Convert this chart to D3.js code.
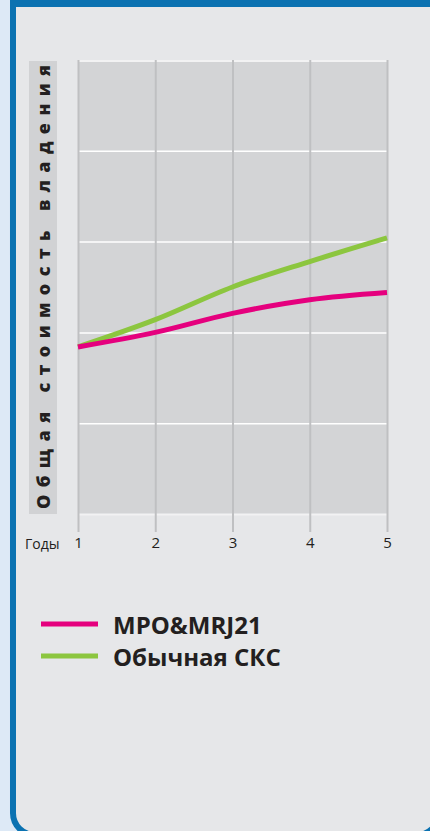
<!DOCTYPE html>
<html>
<head>
<meta charset="utf-8">
<script src="https://cdn.jsdelivr.net/npm/d3@7"></script>
<style>
  html, body { margin: 0; padding: 0; background: #dde9f6; }
  svg { display: block; }
</style>
</head>
<body>
<svg id="chart" width="430" height="831"></svg>
<script>
// Years along the bottom axis
const years = [1, 2, 3, 4, 5];
const yearLabel = "Годы";
// Total cost of ownership, relative units (one gridline step = 1)
const mpoValues = [1.84, 2.00, 2.21, 2.36, 2.44];
const standardValues = [1.84, 2.14, 2.50, 2.78, 3.04];
const seriesNames = ["MPO&MRJ21", "Обычная СКС"];
const seriesColors = ["#e5007e", "#8cc63f"];
const yTitle = "Общая стоимость владения";
const yGrid = [1, 2, 3, 4];

const svg = d3.select("#chart");
const ink = "#231f20";

// Frame: blue rounded border and top bar
svg.append("rect")
  .attr("x", 13).attr("y", -40).attr("width", 426).attr("height", 875)
  .attr("rx", 22).attr("ry", 22)
  .attr("fill", "#e6e7e9").attr("stroke", "#0b72b1").attr("stroke-width", 6);
svg.append("rect")
  .attr("x", 10).attr("y", 0).attr("width", 420).attr("height", 7)
  .attr("fill", "#0b72b1");

const x = d3.scaleLinear().domain([1, 5]).range([78, 387]);
const y = d3.scaleLinear().domain([0, 5]).range([514, 60]);

// Plot background
svg.append("rect")
  .attr("x", x(1)).attr("y", y(5))
  .attr("width", x(5) - x(1)).attr("height", y(0) - y(5))
  .attr("fill", "#d3d4d6");

// Y title panel
svg.append("rect")
  .attr("x", 29).attr("y", y(5) + 1).attr("width", 28).attr("height", y(0) - y(5) - 1)
  .attr("fill", "#d1d2d4");

svg.append("text")
  .attr("transform", `translate(50,${y(0) - 5}) rotate(-90)`)
  .attr("text-anchor", "start")
  .attr("font-family", "'Open Sans', sans-serif")
  .attr("font-weight", 800)
  .attr("font-size", 18)
  .attr("fill", ink)
  .attr("textLength", 444)
  .attr("lengthAdjust", "spacing")
  .text(yTitle);

// Horizontal gridlines (white)
const yAxis = d3.axisLeft(y).tickValues(yGrid).tickSize(-(x(5) - x(1))).tickFormat("");
const gy = svg.append("g").attr("transform", `translate(${x(1)},0)`).call(yAxis);
gy.select(".domain").remove();
gy.selectAll(".tick line").attr("stroke", "#ffffff").attr("stroke-width", 1.5);

// Top and bottom plot edges
svg.append("g").selectAll("line").data([5, 0]).join("line")
  .attr("x1", x(1)).attr("x2", x(5))
  .attr("y1", d => y(d) + (d === 5 ? 1 : 0.5)).attr("y2", d => y(d) + (d === 5 ? 1 : 0.5))
  .attr("stroke", "#f2f2f3").attr("stroke-width", 2);

// Vertical gridlines with year labels
const axisY = 532;
const xAxis = d3.axisBottom(x).tickValues(years).tickSize(-(axisY - y(5))).tickPadding(5).tickFormat(d3.format("d"));
const gx = svg.append("g").attr("transform", `translate(0,${axisY})`).call(xAxis);
gx.select(".domain").remove();
gx.selectAll(".tick line").attr("stroke", "#bfc0c2").attr("stroke-width", 2);
gx.attr("font-size", 15).attr("font-family", "'Open Sans', sans-serif");
gx.selectAll(".tick text")
  .attr("font-family", "'Open Sans', sans-serif")
  .attr("font-size", 15)
  .attr("fill", ink);

svg.append("text")
  .attr("x", 25).attr("y", 549)
  .attr("font-family", "'Open Sans', sans-serif")
  .attr("font-size", 14)
  .attr("fill", ink)
  .text(yearLabel);

// Series lines
const line = d3.line()
  .x((d, i) => x(years[i]))
  .y(d => y(d))
  .curve(d3.curveMonotoneX);

[standardValues, mpoValues].forEach((vals, k) => {
  svg.append("path")
    .datum(vals)
    .attr("d", line)
    .attr("fill", "none")
    .attr("stroke", seriesColors[1 - k])
    .attr("stroke-width", 5);
});

// Legend
const legend = svg.append("g");
seriesNames.forEach((name, i) => {
  const ly = 624 + i * 32;
  legend.append("line")
    .attr("x1", 41).attr("x2", 98).attr("y1", ly).attr("y2", ly)
    .attr("stroke", seriesColors[i]).attr("stroke-width", 5);
  legend.append("text")
    .attr("x", 113).attr("y", ly + 10)
    .attr("font-family", "'Open Sans', sans-serif")
    .attr("font-weight", 700)
    .attr("font-size", 24)
    .attr("fill", ink)
    .text(name);
});
</script>
</body>
</html>
